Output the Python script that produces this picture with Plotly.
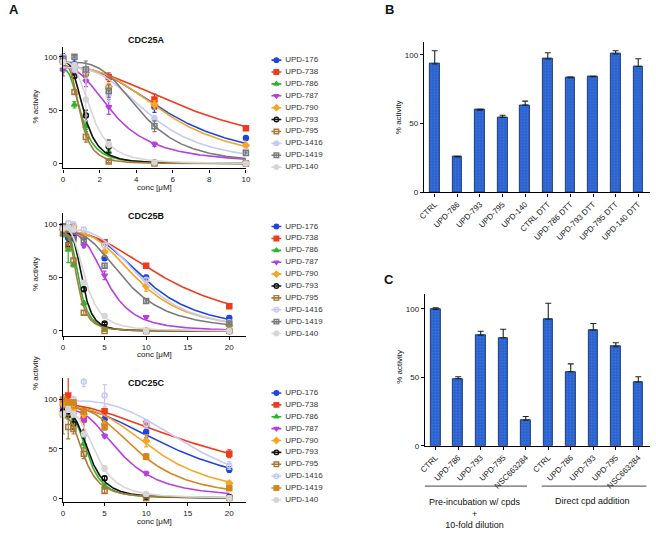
import numpy as np
import plotly.graph_objects as go

W, H = 656, 533
FONT = "Liberation Sans, Arial, sans-serif"

# 化合物与配色
COMPOUNDS = ["UPD-176", "UPD-738", "UPD-786", "UPD-787", "UPD-790",
             "UPD-793", "UPD-795", "UPD-1416", "UPD-1419", "UPD-140"]
COLORS = ["#1f45e0", "#f03a1c", "#2cb52c", "#b540e0", "#f5a623",
          "#111111", "#a8783a", "#c6caf3", "#7a7a7a", "#d6d6d6"]
SYMBOLS = ["circle", "square", "triangle-up", "triangle-down", "diamond",
           "circle-open", "square-open", "circle-open", "square-open-dot", "circle"]

CONC_A = [0, 0.625, 1.25, 2.5, 5, 10]
CONC_BC = [0, 0.625, 1.25, 2.5, 5, 10, 20]

# CDC25A
A_MEAN = [
    [100, 93, 84, 71, 53, 24],
    [98, 85, 87, 81, 60, 33],
    [88, 55, 35, 11, 1, 0],
    [88, 88, 77, 53, 18, 1],
    [95, 86, 85, 72, 55, 17],
    [95, 82, 45, 16, 1, 0],
    [96, 67, 25, 2, 0, 0],
    [100, 88, 87, 65, 42, 12],
    [98, 100, 88, 68, 35, 10],
    [95, 92, 60, 18, 1, 0],
]
A_SEM = [
    [3, 4, 5, 2, 5, 2],
    [2, 2, 3, 4, 5, 2],
    [3, 3, 3, 3, 1, 0],
    [6, 2, 5, 7, 2, 1],
    [2, 2, 3, 3, 4, 4],
    [2, 2, 5, 6, 1, 0],
    [2, 2, 5, 1, 0, 0],
    [2, 3, 3, 7, 3, 2],
    [2, 1, 8, 6, 5, 2],
    [2, 2, 20, 3, 1, 0],
]
# 拟合参数: top, IC50, hill
A_TOP = [90, 91, 88, 90, 90, 95, 92, 90, 95, 95]
A_IC50 = [6.0, 7.8, 1.0, 2.85, 5.8, 1.15, 0.95, 4.8, 4.3, 1.55]
A_HILL = [2.6, 2.0, 2.7, 2.4, 2.8, 3.0, 3.2, 3.0, 3.5, 3.0]

# CDC25B
B_MEAN = [
    [95, 87, 89, 88, 68, 50, 12],
    [97, 91, 95, 89, 83, 61, 23],
    [90, 76, 62, 26, 1, 0, 0],
    [95, 95, 88, 80, 52, 13, 0],
    [95, 95, 98, 90, 74, 42, 5],
    [95, 81, 87, 39, 7, 0, 0],
    [92, 80, 66, 17, 0, 0, 0],
    [96, 101, 100, 95, 80, 48, 8],
    [98, 97, 86, 85, 61, 28, 7],
    [96, 97, 95, 45, 14, 0, 0],
]
B_SEM = [
    [2, 2, 2, 2, 2, 2, 2],
    [2, 2, 2, 2, 2, 2, 2],
    [2, 12, 2, 2, 1, 0, 0],
    [2, 2, 2, 2, 4, 1, 0],
    [2, 2, 2, 2, 4, 5, 1],
    [2, 2, 2, 2, 1, 0, 0],
    [2, 2, 2, 2, 0, 0, 0],
    [2, 2, 2, 2, 2, 2, 1],
    [2, 2, 2, 2, 2, 2, 1],
    [2, 2, 2, 2, 1, 0, 0],
]
B_TOP = [92, 93, 92, 92, 93, 92, 92, 95, 93, 96]
B_IC50 = [10.2, 13.0, 1.95, 5.3, 9.2, 2.35, 1.75, 9.6, 7.6, 2.7]
B_HILL = [3.0, 2.3, 3.4, 3.3, 3.0, 4.0, 3.2, 3.2, 2.8, 3.0]

# CDC25C
C_MEAN = [
    [93, 89, 93, 88, 80, 67, 29],
    [97, 104, 96, 80, 88, 75, 45],
    [85, 83, 78, 55, 12, 1, 0],
    [90, 88, 85, 80, 63, 25, 1],
    [95, 90, 90, 85, 75, 58, 15],
    [88, 85, 75, 65, 20, 1, 1],
    [85, 72, 70, 45, 7, 0, 0],
    [100, 95, 100, 118, 104, 75, 33],
    [100, 97, 97, 88, 72, 42, 10],
    [85, 90, 85, 65, 30, 4, 0],
]
C_SEM = [
    [4, 3, 2, 3, 3, 6, 3],
    [4, 22, 3, 12, 3, 4, 4],
    [3, 3, 3, 4, 2, 1, 0],
    [3, 3, 3, 3, 2, 2, 1],
    [3, 3, 3, 3, 3, 6, 2],
    [3, 3, 5, 4, 2, 1, 1],
    [20, 12, 5, 5, 2, 0, 0],
    [3, 3, 3, 5, 11, 4, 4],
    [5, 3, 3, 3, 3, 3, 2],
    [3, 3, 3, 3, 3, 2, 0],
]
C_TOP = [92, 95, 86, 90, 92, 87, 82, 99, 92, 88]
C_IC50 = [14.5, 19.0, 3.0, 7.0, 11.5, 3.2, 2.6, 16.0, 9.2, 4.0]
C_HILL = [2.2, 1.8, 3.3, 2.8, 2.8, 3.2, 2.8, 3.0, 2.9, 3.2]

# 柱状图 B
BAR_B_LABELS = ["CTRL", "UPD-786", "UPD-793", "UPD-795", "UPD-140",
                "CTRL DTT", "UPD-786 DTT", "UPD-793 DTT", "UPD-795 DTT", "UPD-140 DTT"]
BAR_B_MEAN = [93.3, 25.8, 59.8, 54.5, 63.4, 96.9, 83.3, 84.0, 100.5, 91.4]
BAR_B_ERR = [9.6, 0.5, 0.5, 1.5, 2.9, 4.5, 0.5, 0.4, 2.4, 5.7]

# 柱状图 C
BAR_C_LABELS = ["CTRL", "UPD-786", "UPD-793", "UPD-795", "NSC663284",
                "CTRL", "UPD-786", "UPD-793", "UPD-795", "NSC663284"]
BAR_C_MEAN = [99.5, 48.9, 80.7, 78.8, 18.6, 92.3, 54.0, 84.3, 72.3, 46.5]
BAR_C_ERR = [1.2, 1.5, 2.9, 6.2, 2.8, 11.7, 5.8, 4.9, 2.9, 3.9]
GROUP_LABELS = ["Pre-incubation w/ cpds<br>+<br>10-fold dilution", "Direct cpd addition"]


def px(x):
    return x / W


def py(y):
    return 1 - y / H


def logistic(x, top, ic50, hill):
    return top / (1 + (x / ic50) ** hill)


def note(text, x, y, size=8, angle=0, xref="paper"):
    return dict(text=text, x=x, y=y, xref=xref, yref="paper", xanchor="center",
                yanchor="middle", textangle=angle, showarrow=False,
                font=dict(family=FONT, size=size, color="#111"))


fig = go.Figure()

curve_panels = [
    dict(title="CDC25A", conc=CONC_A, mean=A_MEAN, sem=A_SEM, top=A_TOP, ic50=A_IC50,
         hill=A_HILL, xr=[0, 10], dtick=2, yr=[-4.5, 109.5], ypix=(170, 47),
         ttl_y=40, xt_y=189, yt_y=107, leg_top=54.7),
    dict(title="CDC25B", conc=CONC_BC, mean=B_MEAN, sem=B_SEM, top=B_TOP, ic50=B_IC50,
         hill=B_HILL, xr=[0, 22], dtick=5, yr=[-4.6, 110], ypix=(339, 215.5),
         ttl_y=218, xt_y=358, yt_y=276, leg_top=222.7),
    dict(title="CDC25C", conc=CONC_BC, mean=C_MEAN, sem=C_SEM, top=C_TOP, ic50=C_IC50,
         hill=C_HILL, xr=[0, 22], dtick=5, yr=[-4.3, 121.7], ypix=(507, 381.7),
         ttl_y=387, xt_y=526, yt_y=376, leg_top=390.7),
]

axis_style = dict(showgrid=False, zeroline=False, showline=True, linecolor="black",
                  linewidth=1.2, ticks="outside", ticklen=3, tickwidth=1,
                  tickcolor="black", tickfont=dict(family=FONT, size=8, color="#222"))
layout_axes = {}
annotations = []

for p, pan in enumerate(curve_panels):
    n = p + 1
    xa, ya = ("x" if n == 1 else f"x{n}"), ("y" if n == 1 else f"y{n}")
    lx, ly = f"x{n + 5}", f"y{n + 5}"
    colors = list(COLORS)
    symbols = list(SYMBOLS)
    if pan["title"] == "CDC25A":
        symbols[7] = "circle"
    if pan["title"] == "CDC25C":
        colors[8] = "#d3861e"
        symbols[8] = "square"
    xs = np.linspace(0, pan["conc"][-1], 300)
    for i, name in enumerate(COMPOUNDS):
        c = colors[i]
        fig.add_trace(go.Scatter(
            x=xs, y=logistic(xs, pan["top"][i], pan["ic50"][i], pan["hill"][i]),
            mode="lines", line=dict(color=c, width=1.6), xaxis=xa, yaxis=ya,
            showlegend=False, hoverinfo="skip"))
        fig.add_trace(go.Scatter(
            x=pan["conc"], y=pan["mean"][i], mode="markers", xaxis=xa, yaxis=ya,
            marker=dict(color=c, size=5, symbol=symbols[i], line=dict(color=c, width=1.5)),
            error_y=dict(type="data", array=pan["sem"][i], color=c, thickness=1.2, width=2),
            cliponaxis=False, showlegend=False, name=name))
        # 手工图例
        fig.add_trace(go.Scatter(
            x=[10, 20], y=[i, i], mode="lines", line=dict(color=c, width=1.6),
            xaxis=lx, yaxis=ly, showlegend=False, hoverinfo="skip"))
        fig.add_trace(go.Scatter(
            x=[15], y=[i], mode="markers", xaxis=lx, yaxis=ly,
            marker=dict(color=c, size=4.5, symbol=symbols[i], line=dict(color=c, width=1.4)),
            showlegend=False, hoverinfo="skip"))
    fig.add_trace(go.Scatter(
        x=[24] * len(COMPOUNDS), y=list(range(len(COMPOUNDS))), text=COMPOUNDS,
        mode="text", textposition="middle right",
        textfont=dict(family=FONT, size=8, color="#333"),
        xaxis=lx, yaxis=ly, showlegend=False, hoverinfo="skip"))

    key = "" if n == 1 else str(n)
    layout_axes[f"xaxis{key}"] = dict(axis_style, domain=[px(58), px(244)], range=pan["xr"],
                                       dtick=pan["dtick"], anchor=ya)
    layout_axes[f"yaxis{key}"] = dict(axis_style, domain=[py(pan["ypix"][0]), py(pan["ypix"][1])],
                                       range=pan["yr"], tickvals=[0, 50, 100], anchor=xa)
    layout_axes[f"xaxis{n + 5}"] = dict(domain=[px(260), px(340)], range=[0, 80],
                                         visible=False, anchor=ly)
    layout_axes[f"yaxis{n + 5}"] = dict(domain=[py(pan["leg_top"] + 120), py(pan["leg_top"])],
                                         range=[9.5, -0.5], visible=False, anchor=lx)
    annotations += [
        note(f"<b>{pan['title']}</b>", px(143), py(pan["ttl_y"]), size=9),
        note("conc [μM]", px(151), py(pan["xt_y"])),
        note("% activity", px(30), py(pan["yt_y"]), angle=-90),
    ]

# 柱状图
bar_panels = [
    dict(n=4, labels=BAR_B_LABELS, mean=BAR_B_MEAN, err=BAR_B_ERR, xpix=(425, 655),
         ypix=(194.3, 42), yr=[0, 109.5], yt=(400, 118)),
    dict(n=5, labels=BAR_C_LABELS, mean=BAR_C_MEAN, err=BAR_C_ERR, xpix=(426, 655),
         ypix=(450, 297), yr=[0, 110.6], yt=(400, 370)),
]
for bp in bar_panels:
    n = bp["n"]
    idx = list(range(len(bp["labels"])))
    fig.add_trace(go.Bar(
        x=idx, y=bp["mean"], width=0.43, xaxis=f"x{n}", yaxis=f"y{n}",
        marker=dict(color="#2a62cf", line=dict(color="#1b3a78", width=1),
                    pattern=dict(shape=".", fillmode="overlay", fgcolor="#5b8ae6",
                                 size=3, solidity=0.25)),
        error_y=dict(type="data", symmetric=False, array=bp["err"],
                     arrayminus=[0] * len(idx), color="#222", thickness=1.1, width=3),
        showlegend=False))
    layout_axes[f"xaxis{n}"] = dict(axis_style, domain=[px(bp["xpix"][0]), px(bp["xpix"][1])],
                                     range=[-0.48, 9.52], tickvals=idx, ticktext=bp["labels"],
                                     tickangle=-45, anchor=f"y{n}")
    layout_axes[f"yaxis{n}"] = dict(axis_style, domain=[py(bp["ypix"][0]), py(bp["ypix"][1])],
                                     range=bp["yr"], tickvals=[0, 50, 100], anchor=f"x{n}")
    annotations.append(note("% activity", px(bp["yt"][0]), py(bp["yt"][1]), angle=-90))

# C 分组标注
shapes = []
for (x0, x1, cx, ty), label in zip([(-0.6, 4.06, 1.73, 518), (4.71, 9.36, 6.95, 505.7)],
                                   GROUP_LABELS):
    shapes.append(dict(type="line", xref="x5", yref="paper", x0=x0, x1=x1,
                       y0=py(490.7), y1=py(490.7), line=dict(color="#444", width=1)))
    annotations.append(note(label, cx, py(ty), size=9, xref="x5"))

for letter, lx_, ly_ in [("A", 8, 10), ("B", 390, 10), ("C", 390, 282)]:
    annotations.append(note(f"<b>{letter}</b>", px(lx_), py(ly_), size=13))

fig.update_layout(
    width=W, height=H, margin=dict(l=0, r=0, t=0, b=0),
    paper_bgcolor="white", plot_bgcolor="white",
    annotations=annotations, shapes=shapes, bargap=0,
    **layout_axes,
)

fig.write_html("out.html", config={"displayModeBar": False},
               post_script="document.body.style.margin='0';document.body.style.overflow='hidden';")
